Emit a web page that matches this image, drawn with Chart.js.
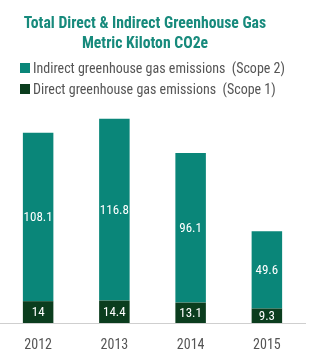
<!DOCTYPE html>
<html>
<head>
<meta charset="utf-8">
<script src="https://cdn.jsdelivr.net/npm/chart.js@4"></script>
<style>
  body { margin: 0; background: #fff; }
  canvas { display: block; }
</style>
</head>
<body>
<canvas id="ghgChart" width="324" height="362"></canvas>
<script>
// Datos del gráfico
const years = ['2012', '2013', '2014', '2015'];
const scope1 = [14, 14.4, 13.1, 9.3];
const scope2 = [108.1, 116.8, 96.1, 49.6];
const seriesNames = [
    'Direct greenhouse gas emissions  (Scope 1)',
    'Indirect greenhouse gas emissions  (Scope 2)'
];
const titleLines = ['Total Direct & Indirect Greenhouse Gas', 'Metric Kiloton CO2e'];

const FONT = '"Liberation Sans Narrow", "Roboto Condensed", "Liberation Sans", sans-serif';
const DARK = '#0b3d1e';
const TEAL = '#0a8679';

// Título, leyenda y etiquetas dentro de las barras
const decorations = {
    id: 'decorations',
    afterDraw(chart) {
        const ctx = chart.ctx;
        ctx.save();

        // Título
        ctx.fillStyle = '#178a7c';
        ctx.font = 'bold 15.7px ' + FONT;
        ctx.textAlign = 'center';
        ctx.textBaseline = 'middle';
        ctx.fillText(titleLines[0], 145, 24);
        ctx.fillText(titleLines[1], 145, 44);

        // Leyenda (Scope 2 primero)
        ctx.textAlign = 'left';
        ctx.font = '14px ' + FONT;
        const order = [1, 0];
        order.forEach((dsIndex, row) => {
            const ds = chart.data.datasets[dsIndex];
            const y = 68 + row * 21;
            ctx.fillStyle = ds.backgroundColor;
            ctx.fillRect(20, y - 5, 10, 10);
            ctx.fillStyle = '#555';
            ctx.fillText(ds.label, 33, y + 1);
        });

        // Valores centrados en cada segmento
        ctx.fillStyle = '#fff';
        ctx.font = '13px ' + FONT;
        ctx.textAlign = 'center';
        chart.data.datasets.forEach((ds, i) => {
            const meta = chart.getDatasetMeta(i);
            meta.data.forEach((bar, j) => {
                const cy = (bar.y + bar.base) / 2;
                ctx.fillText(String(ds.data[j]), bar.x, cy + 1);
            });
        });

        ctx.restore();
    }
};

new Chart(document.getElementById('ghgChart'), {
    type: 'bar',
    data: {
        labels: years,
        datasets: [{
            label: seriesNames[0],
            data: scope1,
            backgroundColor: DARK
        }, {
            label: seriesNames[1],
            data: scope2,
            backgroundColor: TEAL
        }]
    },
    options: {
        responsive: false,
        animation: false,
        devicePixelRatio: 1,
        layout: {
            padding: { top: 105, left: 0, right: 19, bottom: 0 }
        },
        datasets: {
            bar: {
                categoryPercentage: 1,
                barPercentage: 0.4
            }
        },
        scales: {
            x: {
                stacked: true,
                grid: { display: false },
                border: { display: true, color: '#cfcfcf', width: 1 },
                ticks: {
                    color: '#555',
                    padding: 6,
                    font: { family: FONT, size: 14 }
                },
                afterFit: (scale) => { scale.height = 39; }
            },
            y: {
                stacked: true,
                display: false,
                min: 0,
                max: 140
            }
        },
        plugins: {
            legend: { display: false },
            title: { display: false },
            tooltip: { enabled: false }
        }
    },
    plugins: [decorations]
});
</script>
</body>
</html>
